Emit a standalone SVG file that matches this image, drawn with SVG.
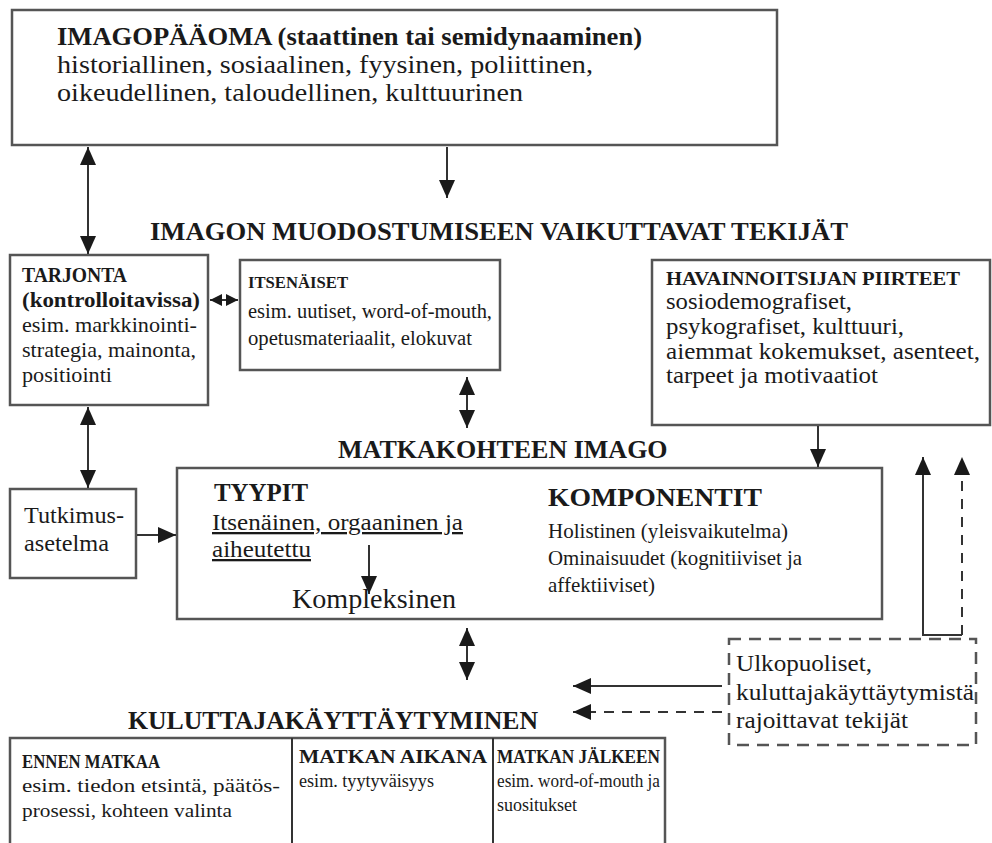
<svg xmlns="http://www.w3.org/2000/svg" width="992" height="843" viewBox="0 0 992 843">
<defs>
<style>
text{font-family:"Liberation Serif","Times New Roman",serif;fill:#1a1a1a}
.b{font-weight:bold}
.box{fill:#fff;stroke:#555;stroke-width:2.5}
.dbox{fill:none;stroke:#555;stroke-width:2.5;stroke-dasharray:12 8}
.ln{stroke:#333;stroke-width:2;fill:none}
.dl{stroke:#333;stroke-width:2;fill:none;stroke-dasharray:10 8}
.h{font-weight:bold}
</style>
<marker id="ah" viewBox="0 0 18 16" refX="18" refY="8" markerWidth="18" markerHeight="16" markerUnits="userSpaceOnUse" orient="auto-start-reverse">
<path d="M0,0 L18,8 L0,16 z" fill="#1a1a1a"/>
</marker>
<marker id="as" viewBox="0 0 12 12" refX="12" refY="6" markerWidth="12" markerHeight="12" markerUnits="userSpaceOnUse" orient="auto-start-reverse">
<path d="M0,0 L12,6 L0,12 z" fill="#1a1a1a"/>
</marker>
</defs>
<rect width="992" height="843" fill="#fff"/>

<g id="imagopaaoma">
<rect class="box" x="12" y="10" width="765" height="135"/>
<text class="b" font-size="25" x="57" y="45" textLength="585" lengthAdjust="spacingAndGlyphs">IMAGOPÄÄOMA (staattinen tai semidynaaminen)</text>
<text font-size="26" x="57" y="73" textLength="536" lengthAdjust="spacingAndGlyphs">historiallinen, sosiaalinen, fyysinen, poliittinen,</text>
<text font-size="26" x="57" y="101" textLength="466" lengthAdjust="spacingAndGlyphs">oikeudellinen, taloudellinen, kulttuurinen</text>
</g>

<g id="heading-tekijat">
<text class="h" font-size="26" x="150" y="240" textLength="698" lengthAdjust="spacingAndGlyphs">IMAGON MUODOSTUMISEEN VAIKUTTAVAT TEKIJÄT</text>
</g>

<g id="tarjonta">
<rect class="box" x="10" y="255" width="198" height="150"/>
<text class="b" font-size="21" x="22" y="282" textLength="105" lengthAdjust="spacingAndGlyphs">TARJONTA</text>
<text class="b" font-size="21" x="22" y="307" textLength="178" lengthAdjust="spacingAndGlyphs">(kontrolloitavissa)</text>
<text font-size="22" x="22" y="332" textLength="175" lengthAdjust="spacingAndGlyphs">esim. markkinointi-</text>
<text font-size="22" x="22" y="357" textLength="174" lengthAdjust="spacingAndGlyphs">strategia, mainonta,</text>
<text font-size="22" x="22" y="382" textLength="90" lengthAdjust="spacingAndGlyphs">positiointi</text>
</g>

<g id="itsenaiset">
<rect class="box" x="240" y="260" width="260" height="110"/>
<text class="b" font-size="17" x="248" y="288" textLength="100" lengthAdjust="spacingAndGlyphs">ITSENÄISET</text>
<text font-size="20.5" x="248" y="318" textLength="244" lengthAdjust="spacingAndGlyphs">esim. uutiset, word-of-mouth,</text>
<text font-size="20.5" x="248" y="345" textLength="224" lengthAdjust="spacingAndGlyphs">opetusmateriaalit, elokuvat</text>
</g>

<g id="havainnoitsija">
<rect class="box" x="652" y="260" width="338" height="165"/>
<text class="b" font-size="18" x="666" y="285" textLength="294" lengthAdjust="spacingAndGlyphs">HAVAINNOITSIJAN PIIRTEET</text>
<text font-size="23" x="666" y="309" textLength="186" lengthAdjust="spacingAndGlyphs">sosiodemografiset,</text>
<text font-size="23" x="666" y="334" textLength="238" lengthAdjust="spacingAndGlyphs">psykografiset, kulttuuri,</text>
<text font-size="23" x="666" y="359" textLength="314" lengthAdjust="spacingAndGlyphs">aiemmat kokemukset, asenteet,</text>
<text font-size="23" x="666" y="383" textLength="212" lengthAdjust="spacingAndGlyphs">tarpeet ja motivaatiot</text>
</g>

<g id="heading-imago">
<text class="h" font-size="26" x="338" y="458">MATKAKOHTEEN IMAGO</text>
</g>

<g id="tutkimusasetelma">
<rect class="box" x="10" y="489" width="126" height="89"/>
<text font-size="23" x="24" y="523" textLength="100" lengthAdjust="spacingAndGlyphs">Tutkimus-</text>
<text font-size="23" x="24" y="551" textLength="85" lengthAdjust="spacingAndGlyphs">asetelma</text>
</g>

<g id="matkakohteen-imago">
<rect class="box" x="177" y="468" width="705" height="151"/>
<text class="b" font-size="25" x="214" y="501" textLength="94" lengthAdjust="spacingAndGlyphs">TYYPIT</text>
<text font-size="23" x="212" y="530" text-decoration="underline" textLength="251" lengthAdjust="spacingAndGlyphs">Itsenäinen, orgaaninen ja</text>
<text font-size="23" x="212" y="557" text-decoration="underline" textLength="99" lengthAdjust="spacingAndGlyphs">aiheutettu</text>
<text font-size="27" x="292" y="608" textLength="164" lengthAdjust="spacingAndGlyphs">Kompleksinen</text>
<text class="b" font-size="25" x="548" y="506" textLength="214" lengthAdjust="spacingAndGlyphs">KOMPONENTIT</text>
<text font-size="21" x="548" y="538" textLength="240" lengthAdjust="spacingAndGlyphs">Holistinen (yleisvaikutelma)</text>
<text font-size="21" x="548" y="565" textLength="254" lengthAdjust="spacingAndGlyphs">Ominaisuudet (kognitiiviset ja</text>
<text font-size="21" x="548" y="592" textLength="107" lengthAdjust="spacingAndGlyphs">affektiiviset)</text>
</g>

<g id="ulkopuoliset">
<rect class="dbox" x="729" y="639" width="247" height="106"/>
<text font-size="23" x="736" y="671" textLength="136" lengthAdjust="spacingAndGlyphs">Ulkopuoliset,</text>
<text font-size="23" x="736" y="700" textLength="238" lengthAdjust="spacingAndGlyphs">kuluttajakäyttäytymistä</text>
<text font-size="23" x="736" y="728" textLength="172" lengthAdjust="spacingAndGlyphs">rajoittavat tekijät</text>
</g>

<g id="heading-kuluttaja">
<text class="h" font-size="25" x="128" y="729" textLength="410" lengthAdjust="spacingAndGlyphs">KULUTTAJAKÄYTTÄYTYMINEN</text>
</g>

<g id="kuluttajakayttaytyminen">
<rect class="box" x="10" y="738" width="655" height="115"/>
<line class="ln" x1="292" y1="738" x2="292" y2="843"/>
<line class="ln" x1="493" y1="738" x2="493" y2="843"/>
<text class="b" font-size="18" x="22" y="768" textLength="138" lengthAdjust="spacingAndGlyphs">ENNEN MATKAA</text>
<text font-size="19" x="22" y="792" textLength="258" lengthAdjust="spacingAndGlyphs">esim. tiedon etsintä, päätös-</text>
<text font-size="19" x="22" y="817" textLength="210" lengthAdjust="spacingAndGlyphs">prosessi, kohteen valinta</text>
<text class="b" font-size="18" x="299" y="763" textLength="188" lengthAdjust="spacingAndGlyphs">MATKAN AIKANA</text>
<text font-size="18" x="299" y="787" textLength="135" lengthAdjust="spacingAndGlyphs">esim. tyytyväisyys</text>
<text class="b" font-size="18" x="497" y="763" textLength="163" lengthAdjust="spacingAndGlyphs">MATKAN JÄLKEEN</text>
<text font-size="18" x="497" y="787" textLength="163" lengthAdjust="spacingAndGlyphs">esim. word-of-mouth ja</text>
<text font-size="18" x="497" y="811" textLength="80" lengthAdjust="spacingAndGlyphs">suositukset</text>
</g>

<g id="connectors">
<line class="ln" x1="88" y1="147" x2="88" y2="254" marker-start="url(#ah)" marker-end="url(#ah)"/>
<line class="ln" x1="447" y1="147" x2="447" y2="198" marker-end="url(#ah)"/>
<line class="ln" x1="210" y1="300" x2="238" y2="300" marker-start="url(#as)" marker-end="url(#as)"/>
<line class="ln" x1="467" y1="377" x2="467" y2="428" marker-start="url(#ah)" marker-end="url(#ah)"/>
<line class="ln" x1="818" y1="426" x2="818" y2="467" marker-end="url(#ah)"/>
<line class="ln" x1="88" y1="407" x2="88" y2="488" marker-start="url(#ah)" marker-end="url(#ah)"/>
<line class="ln" x1="137" y1="535" x2="176" y2="535" marker-end="url(#ah)"/>
<line class="ln" x1="369" y1="545" x2="369" y2="594" marker-end="url(#ah)"/>
<line class="ln" x1="467" y1="628" x2="467" y2="680" marker-start="url(#ah)" marker-end="url(#ah)"/>
<line class="ln" x1="923" y1="636" x2="923" y2="457" marker-end="url(#ah)"/>
<line class="dl" x1="962" y1="635" x2="962" y2="457" marker-end="url(#ah)"/>
<line class="ln" x1="923" y1="635" x2="962" y2="635"/>
<line class="ln" x1="722" y1="686" x2="573" y2="686" marker-end="url(#ah)"/>
<line class="dl" x1="722" y1="712" x2="573" y2="712" marker-end="url(#ah)"/>
</g>
</svg>
